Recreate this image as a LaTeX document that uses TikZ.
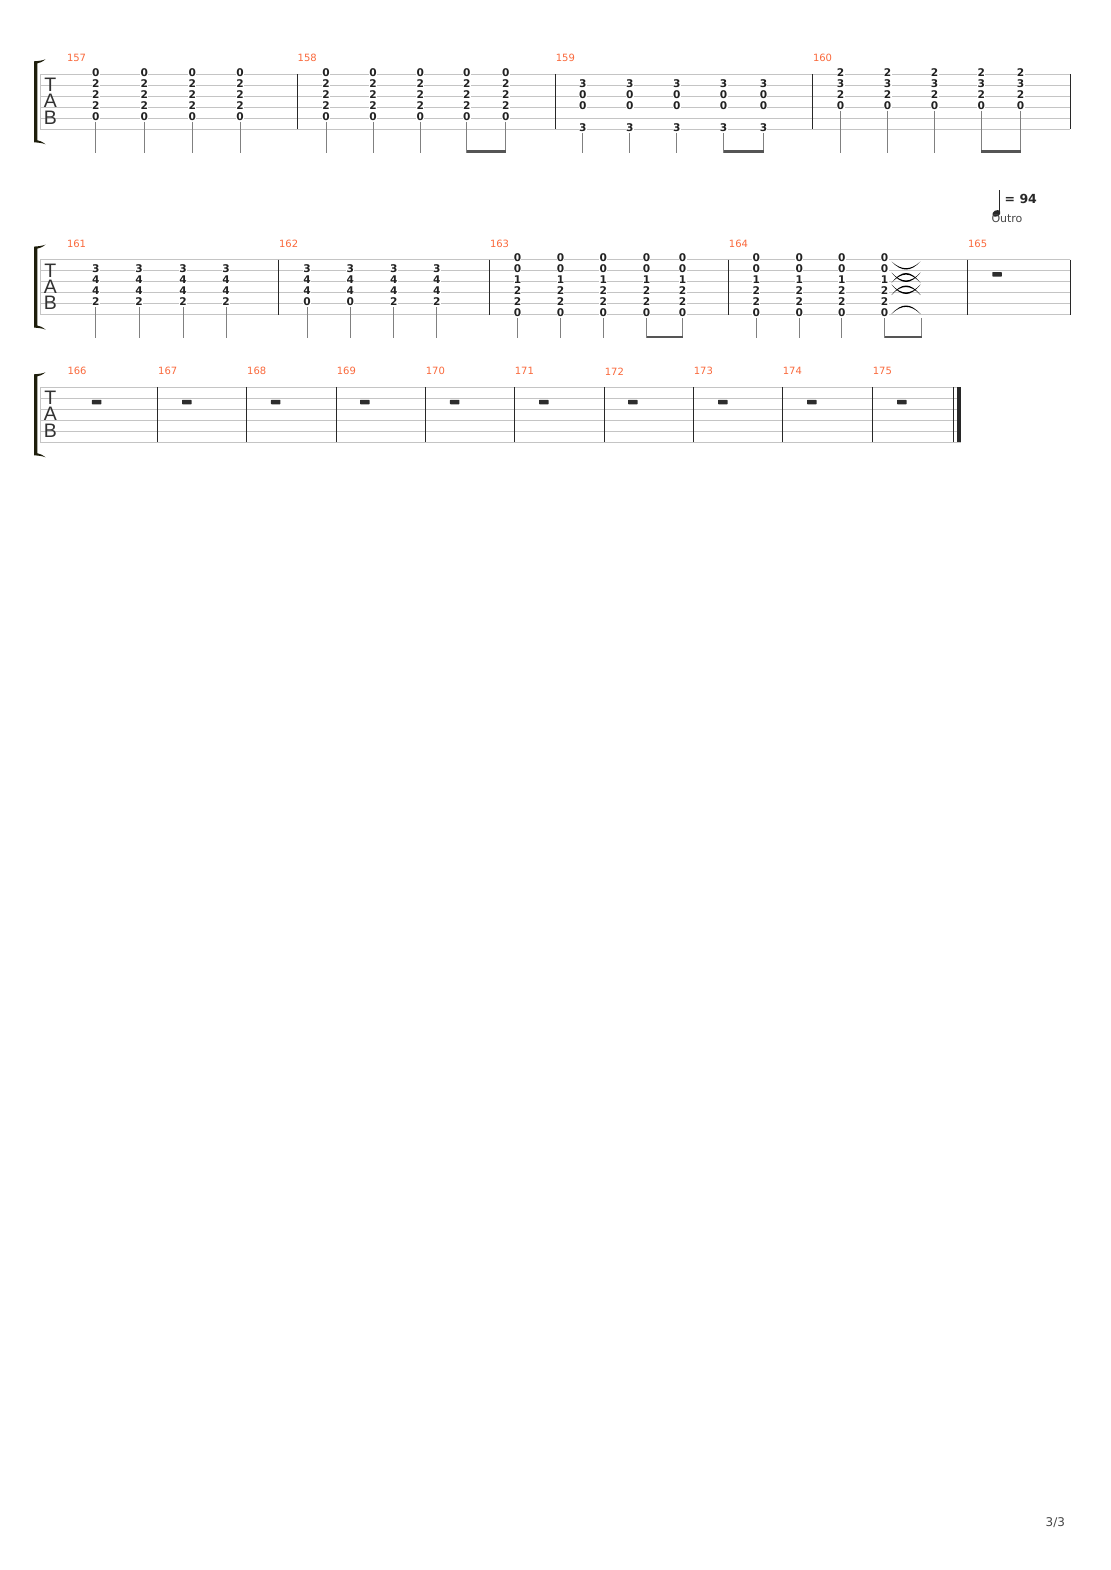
\documentclass[tikz,border=0pt]{standalone}
\usepackage{fontspec}
\setmainfont{DejaVu Sans}
\newfontfamily\tabsans{Liberation Sans}
\usetikzlibrary{calc}

\definecolor{linegray}{RGB}{196,196,196}
\definecolor{bardark}{RGB}{40,40,40}
\definecolor{fretdark}{RGB}{34,34,34}
\definecolor{stemgray}{RGB}{128,128,128}
\definecolor{beamgray}{RGB}{85,85,85}
\definecolor{measorange}{RGB}{250,105,60}
\definecolor{restdark}{RGB}{45,45,45}
\definecolor{bracketdark}{RGB}{30,30,12}
\definecolor{letterdark}{RGB}{50,50,50}
\definecolor{textgray}{RGB}{70,70,70}

\tikzset{
  tabline/.style={draw=linegray, line width=0.9pt},
  barline/.style={draw=bardark, line width=1.3pt},
  fret/.style={font=\fontsize{10.6}{12}\selectfont\bfseries, text=fretdark, fill=white, inner sep=0.3pt},
  stem/.style={draw=stemgray, line width=0.9pt},
  beam/.style={draw=beamgray, line width=2.4pt},
  measno/.style={font=\fontsize{10}{12}\selectfont, text=measorange, anchor=west, inner sep=0pt},
  rest/.style={fill=restdark, rounded corners=0.6pt, minimum width=9.5pt, minimum height=4.5pt, inner sep=0pt},
  tabletter/.style={font=\tabsans\fontsize{19.5}{20}\selectfont, text=letterdark, anchor=base, inner sep=0pt},
  tie/.style={fill=black},
}

\begin{document}
\begin{tikzpicture}[x=1pt,y=-1pt]
\useasboundingbox (0,0) rectangle (1110,1570);
\fill[white] (0,0) rectangle (1110,1570);

% staves, brackets and TAB clefs
\foreach \ty/\xe [count=\k] in {74.3/1070.3, 259.6/1070.3, 387.3/961} {
 \foreach \s in {0,...,5}
  \draw[tabline] (40,{\ty+11*\s}) -- (\xe,{\ty+11*\s});
 \draw[tabline] (40,\ty) -- (40,{\ty+55});
 \fill[bracketdark] (34,{\ty-13}) -- (34,{\ty+68}) .. controls (39,{\ty+68.3}) and (42.5,{\ty+68.8}) .. (45.5,{\ty+70})
   .. controls (42.5,{\ty+67.5}) and (39.5,{\ty+66.2}) .. (37.4,{\ty+66}) -- (37.4,{\ty-11})
   .. controls (39.5,{\ty-11.2}) and (42.5,{\ty-12.5}) .. (45.5,{\ty-15})
   .. controls (42.5,{\ty-13.8}) and (39,{\ty-13.3}) .. (34,{\ty-13}) -- cycle;
 \node[tabletter] (clefT\k) at (50.3,{\ty+17.6}) {T};
 \node[tabletter] (clefA\k) at (50.3,{\ty+33.4}) {A};
 \node[tabletter] (clefB\k) at (50.3,{\ty+50.1}) {B};
}

% bar lines
\foreach \bx in {297.2, 555.3, 812.5, 1070.3}
 \draw[barline] (\bx,74.3) -- (\bx,129.3);
\foreach \bx in {278.6, 489.5, 728.4, 967.6, 1070.3}
 \draw[barline] (\bx,259.6) -- (\bx,314.6);
\foreach \bx in {157.7, 246.7, 336.3, 425.3, 514.3, 604.3, 693.3, 782.3, 872.3, 953.3}
 \draw[barline] (\bx,387.3) -- (\bx,442.3);
\fill[bardark] (956.7,387.3) rectangle (961,442.3);

% bar numbers
\foreach \n/\nx/\ty in {157/66.8/74.3, 158/297.5/74.3, 159/555.6/74.3, 160/812.8/74.3,
  161/66.8/259.6, 162/278.9/259.6, 163/489.8/259.6, 164/728.7/259.6, 165/967.9/259.6,
  166/67.3/387.3, 167/158/387.3, 168/247/387.3, 169/336.6/387.3, 170/425.6/387.3,
  171/514.6/387.3, 172/604.6/387.3, 173/693.6/387.3, 174/782.6/387.3, 175/872.6/387.3}
 \node[measno] (bar\n) at (\nx,{\ty-16}) {\n};

% chords: fret numbers and stems
\foreach \m/\ty/\xs/\notes/\low in {
  157/74.3/{95.9,144.2,192.2,240.1}/{1/0,2/2,3/2,4/2,5/0}/5,
  158/74.3/{326,373,420.2,466.8,505.7}/{1/0,2/2,3/2,4/2,5/0}/5,
  159/74.3/{582.8,629.7,676.7,723.6,763.5}/{2/3,3/0,4/0,6/3}/6,
  160/74.3/{840.5,887.5,934.5,981.4,1020.6}/{1/2,2/3,3/2,4/0}/4,
  161/259.6/{95.9,139.1,183,226}/{2/3,3/4,4/4,5/2}/5,
  162a/259.6/{307,350.3}/{2/3,3/4,4/4,5/0}/5,
  162b/259.6/{393.9,436.8}/{2/3,3/4,4/4,5/2}/5,
  163/259.6/{517.5,560.5,603.4,646.5,682.6}/{1/0,2/0,3/1,4/2,5/2,6/0}/6,
  164/259.6/{756.4,799.3,841.9,884.5}/{1/0,2/0,3/1,4/2,5/2,6/0}/6} {
 \foreach \x [count=\i] in \xs {
  \foreach \s/\f in \notes
   \node[fret] (n\m-\i-\s) at (\x,{\ty+11*(\s-1)-1.6}) {\f};
  \draw[stem] (\x,{\ty+11*(\low-1)+3.6}) -- (\x,{\ty+78.5});
  \coordinate (s\m-\i) at (\x,{\ty+77.3});
 }
}
\draw[stem] (921.6,{259.6+58.6}) -- (921.6,{259.6+78.5});
\coordinate (s164-5) at (921.6,{259.6+77.3});

% beams
\foreach \a/\b in {158-4/158-5, 159-4/159-5, 160-4/160-5, 163-4/163-5, 164-4/164-5}
 \draw[beam] (s\a) -- (s\b);

% ties out of bar 164
\foreach \y/\d in {261.5/8, 272.5/9.5, 283/-10, 284.5/9.5, 295/-9.5, 314/-8.5}
 \fill[tie] (891.5,\y) .. controls (901.5,{\y+\d*4/3}) and (910.5,{\y+\d*4/3}) .. (920.5,\y)
   .. controls (910.5,{\y+\d*1.12}) and (901.5,{\y+\d*1.12}) .. (891.5,\y) -- cycle;

% whole rests
\foreach \rx/\ty [count=\r] in {997/259.6, 96.7/387.3, 186.8/387.3, 275.7/387.3, 364.8/387.3,
  454.7/387.3, 543.8/387.3, 632.8/387.3, 722.8/387.3, 811.8/387.3, 901.8/387.3}
 \node[rest] (rest\r) at (\rx,{\ty+14.75}) {};

% tempo and section
\draw[bardark, line width=0.8pt] (999.6,190.5) -- (999.6,212.5);
\fill[bardark] (996.4,213.4) circle [x radius=4.2pt, y radius=3.1pt, rotate=28];
\node[font=\fontsize{12.5}{14}\selectfont\bfseries, text=bardark, anchor=base west, inner sep=0pt] (tempo) at (1004.5,203.5) {= 94};
\node[font=\fontsize{11}{13}\selectfont, text=textgray, anchor=base west, inner sep=0pt] (outro) at (991.3,222.2) {Outro};

% page number
\node[font=\fontsize{12}{14}\selectfont, text=textgray, anchor=base west, inner sep=0pt] (page) at (1045.5,1526.7) {3/3};
\end{tikzpicture}
\end{document}
